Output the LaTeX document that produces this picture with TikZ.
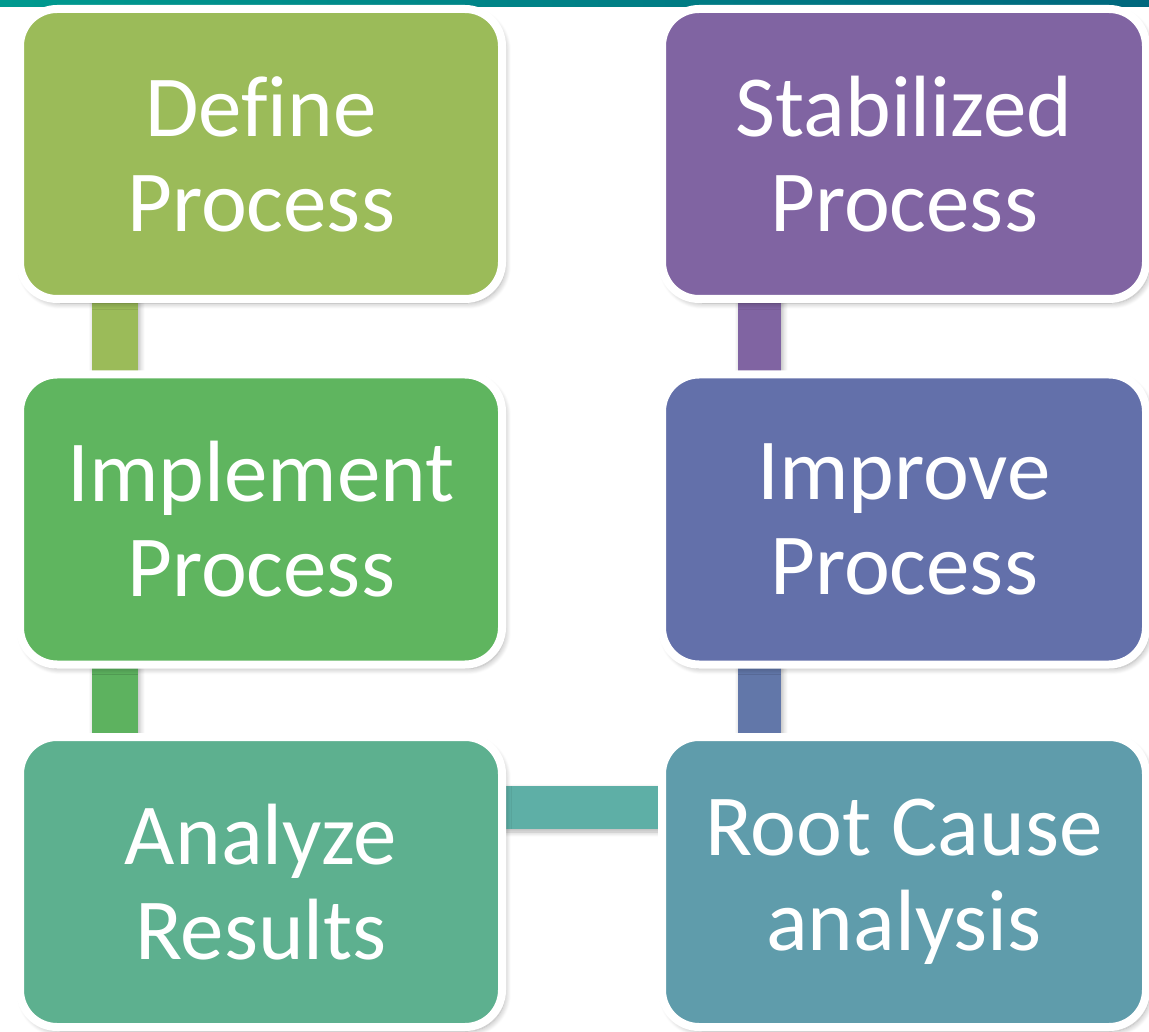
\documentclass[tikz,border=0pt]{standalone}
\usepackage{fontspec}
\setmainfont{Carlito}[Ligatures=CommonOff]
\usetikzlibrary{calc,shadows.blur}
\definecolor{cDefine}{HTML}{9BBB59}
\definecolor{cImpl}{HTML}{5FB55F}
\definecolor{cAnal}{HTML}{5DB08F}
\definecolor{cRoot}{HTML}{5F9CAB}
\definecolor{cImpr}{HTML}{6370AA}
\definecolor{cStab}{HTML}{8064A2}
\definecolor{cConnA}{HTML}{5DB25F}
\definecolor{cConnH}{HTML}{5EAFA6}
\definecolor{cConnR}{HTML}{6277A9}
\definecolor{bannerL}{HTML}{009A8F}
\definecolor{bannerR}{HTML}{00677D}
\tikzset{
  stepbox/.style={draw=white, line width=8pt, rounded corners=37pt,
    minimum width=482pt, minimum height=290pt, inner sep=0pt,
    align=center, text=white, font=\fontsize{87}{95}\selectfont,
    blur shadow={shadow xshift=3pt, shadow yshift=-4pt, shadow blur steps=8, shadow opacity=35, shadow blur radius=6pt}},
  connbar/.style={blur shadow={shadow xshift=2pt, shadow yshift=-3pt, shadow blur steps=6, shadow opacity=30, shadow blur radius=5pt}}
}
\begin{document}
\begin{tikzpicture}[x=1pt,y=-1pt]
\useasboundingbox (0,0) rectangle (1149,1032);
\shade[left color=bannerL, right color=bannerR] (0,0) rectangle (1149,7);
% node placement (invisible first pass for names)
\path
  (261,154)   node[minimum width=482pt, minimum height=290pt] (def) {}
  (261,519.5) node[minimum width=482pt, minimum height=290pt] (imp) {}
  (261,882)   node[minimum width=482pt, minimum height=290pt] (ana) {}
  (904,154)   node[minimum width=484pt, minimum height=290pt] (stab) {}
  (904,519.5) node[minimum width=484pt, minimum height=290pt] (impr) {}
  (904,882)   node[minimum width=484pt, minimum height=290pt] (root) {};
% connectors
\fill[cDefine, connbar] ($(def.south west)+(72,-10)$) rectangle ($(imp.north west)+(118,10)$);
\fill[cConnA, connbar] ($(imp.south west)+(72,-10)$) rectangle ($(ana.north west)+(118,10)$);
\fill[cStab, connbar] ($(stab.south west)+(76,-10)$) rectangle ($(impr.north west)+(119,10)$);
\fill[cConnR, connbar] ($(impr.south west)+(76,-10)$) rectangle ($(root.north west)+(119,10)$);
\fill[cConnH, connbar] ($(ana.east)+(-10,-53)$) rectangle ($(root.west)+(10,-96)$);
% boxes
\node[stepbox, fill=cDefine] at (def) {Define\\Process};
\node[stepbox, fill=cImpl] at (imp) {Implement\\Process};
\node[stepbox, fill=cAnal] at (ana) {Analyze\\Results};
\node[stepbox, fill=cStab, minimum width=484pt] at (stab) {Stabilized\\Process};
\node[stepbox, fill=cImpr, minimum width=484pt] at (impr) {Improve\\Process};
\node[stepbox, fill=cRoot, minimum width=484pt] at (root) {Root Cause\\analysis};
\end{tikzpicture}
\end{document}
